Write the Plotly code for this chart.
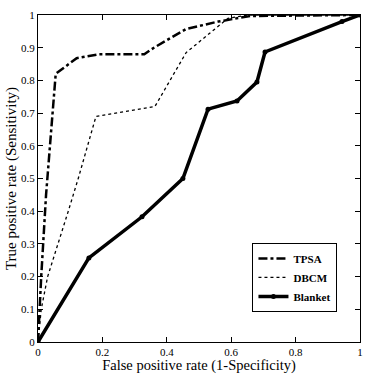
import plotly.graph_objects as go

tpsa_x = [0, 0.01, 0.025, 0.04, 0.055, 0.12, 0.19, 0.33, 0.36, 0.46, 0.56, 0.66, 1.0]
tpsa_y = [0, 0.2, 0.45, 0.65, 0.82, 0.868, 0.88, 0.88, 0.90, 0.957, 0.98, 0.997, 1.0]

dbcm_x = [0, 0.01, 0.03, 0.063, 0.094, 0.125, 0.153, 0.18, 0.363, 0.46, 0.59, 0.65, 1.0]
dbcm_y = [0, 0.1, 0.2, 0.3, 0.4, 0.5, 0.6, 0.69, 0.72, 0.885, 0.99, 1.0, 1.0]

blanket_x = [0, 0.158, 0.323, 0.45, 0.528, 0.618, 0.68, 0.705, 0.944, 1.0]
blanket_y = [0, 0.257, 0.383, 0.5, 0.712, 0.737, 0.795, 0.887, 0.98, 1.0]

x_ticks = [0, 0.2, 0.4, 0.6, 0.8, 1]
x_labels = ["0", "0.2", "0.4", "0.6", "0.8", "1"]
y_ticks = [0, 0.1, 0.2, 0.3, 0.4, 0.5, 0.6, 0.7, 0.8, 0.9, 1]
y_labels = ["0", "0.1", "0.2", "0.3", "0.4", "0.5", "0.6", "0.7", "0.8", "0.9", "1"]

FONT = "Liberation Serif"

fig = go.Figure()
fig.add_trace(go.Scatter(x=tpsa_x, y=tpsa_y, mode="lines", name="TPSA",
                         line=dict(color="black", width=2.5, dash="dashdot")))
fig.add_trace(go.Scatter(x=dbcm_x, y=dbcm_y, mode="lines", name="DBCM",
                         line=dict(color="black", width=1.3, dash="dot")))
fig.add_trace(go.Scatter(x=blanket_x, y=blanket_y, mode="lines+markers", name="Blanket",
                         line=dict(color="black", width=3.5),
                         marker=dict(color="black", size=5)))

axis_common = dict(showgrid=False, zeroline=False, showline=True, linecolor="black",
                   linewidth=1, mirror="allticks", ticks="inside", ticklen=5,
                   tickcolor="black", automargin=False,
                   tickfont=dict(family=FONT, size=11, color="black"))

fig.update_xaxes(range=[0, 1], tickvals=x_ticks, ticktext=x_labels,
                 title=dict(text="False positive rate (1-Specificity)",
                            font=dict(family=FONT, size=14.5, color="black"), standoff=0),
                 **axis_common)
fig.update_yaxes(range=[0, 1], tickvals=y_ticks, ticktext=y_labels,
                 title=dict(text="True positive rate (Sensitivity)",
                            font=dict(family=FONT, size=15, color="black"), standoff=0),
                 **axis_common)

fig.update_layout(
    width=375, height=374,
    margin=dict(l=38, r=15, t=15, b=32, autoexpand=False),
    plot_bgcolor="white", paper_bgcolor="white",
    legend=dict(x=0.93, y=0.092, xanchor="right", yanchor="bottom",
                bgcolor="white", bordercolor="black", borderwidth=1,
                font=dict(family=FONT, size=11, color="black", weight="bold"),
                itemwidth=30, tracegroupgap=0),
    showlegend=True,
)

fig.write_html("out.html", config={"displayModeBar": False},
               post_script="document.body.style.margin='0px';document.body.style.overflow='hidden';")
